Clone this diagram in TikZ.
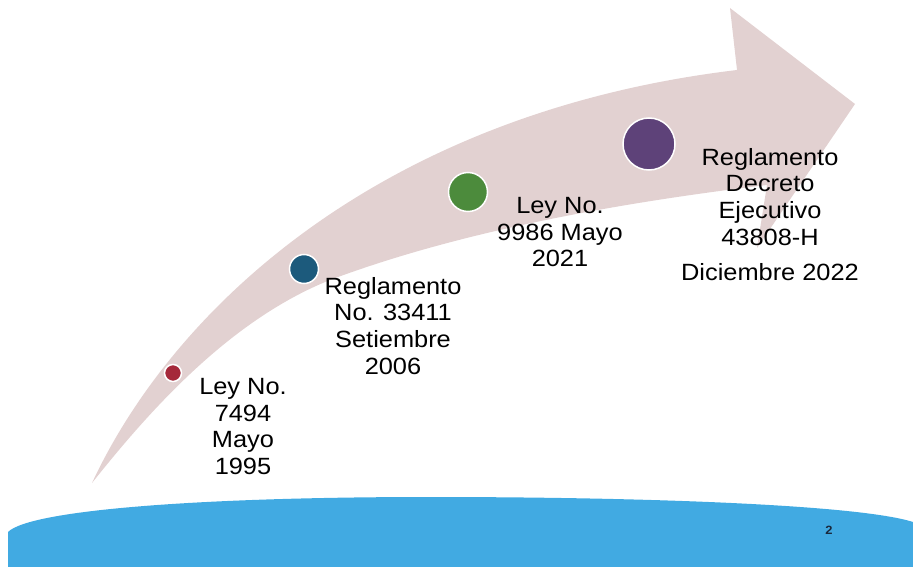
\documentclass[tikz,border=0pt]{standalone}
\usepackage{fontspec}
\setmainfont{Liberation Sans}[FakeStretch=1.08]
\usepackage{tikz}
\usetikzlibrary{positioning}
\definecolor{flecha}{HTML}{E2D1D1}
\definecolor{mar}{HTML}{41AAE2}
\definecolor{rojo}{HTML}{A5283A}
\definecolor{azul}{HTML}{1C5A7C}
\definecolor{verde}{HTML}{4C8B3C}
\definecolor{morado}{HTML}{5E4279}
\definecolor{tinta}{HTML}{1B2A3E}

\begin{document}
\begin{tikzpicture}[x=1pt,y=-1pt,
                    dot/.style={circle,draw=white,line width=1.5pt,inner sep=0pt},
                    hito/.style={align=center,anchor=north,inner sep=0pt,
                                 font=\fontsize{23.5}{26.7}\selectfont}]
  \useasboundingbox (0,0) rectangle (913,567);
%  fondo y flecha

  \fill[mar] (8,567) -- (8,532) .. controls (30,510) and (200,497) .. (430,497)
             .. controls (650,497) and (860,505) .. (913,522) -- (913,567) -- cycle;
  \fill[flecha] (92,483) .. controls (175,305) and (385,112) .. (737,70)
             -- (730,8) -- (855,104) -- (757,248) -- (767,185)
             .. controls (600,205) and (450,235) .. (330,280)
             .. controls (230,320) and (150,410) .. (92,483) -- cycle;

  \node[dot,fill=rojo,minimum size=17pt]   (a) at (173,373) {};
  \node[dot,fill=azul,minimum size=29pt]   (b) at (304,269) {};
  \node[dot,fill=verde,minimum size=39pt]  (c) at (468,192) {};
  \node[dot,fill=morado,minimum size=52pt] (d) at (649,144) {};

  \node[hito] (A) at (243,378) {Ley No.\\7494\\Mayo\\1995};
  \node[hito] (B) at (393,277) {Reglamento\\No. 33411\\Setiembre\\2006};
  \node[hito] (C) at (560,197) {Ley No.\\9986 Mayo\\2021};
  \node[hito] (D) at (770,148) {Reglamento\\Decreto\\Ejecutivo\\43808-H};
  \node[hito] (E) at (770,263) {Diciembre 2022};

  \node[font=\bfseries\fontsize{12}{14}\selectfont,text=tinta] (P) at (829,530) {2};
\end{tikzpicture}
\end{document}
